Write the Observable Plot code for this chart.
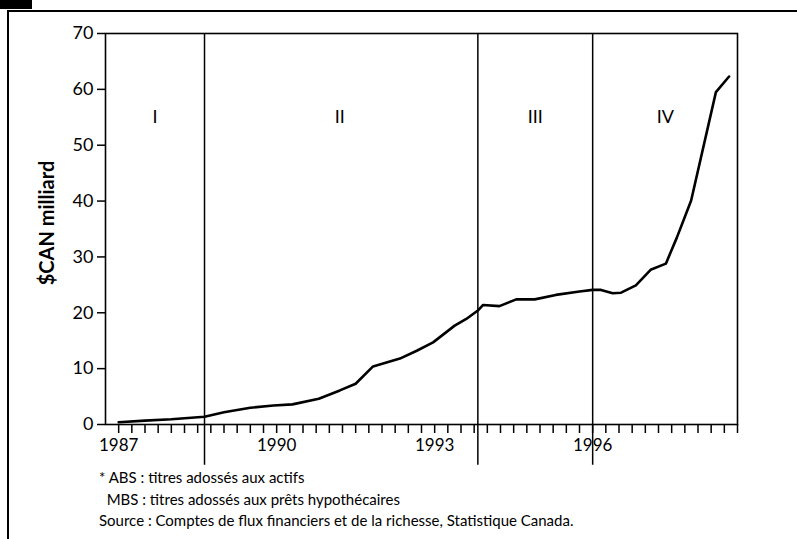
<!DOCTYPE html>
<html>
<head>
<meta charset="utf-8">
<script src="https://cdn.jsdelivr.net/npm/d3@7"></script>
<script src="https://cdn.jsdelivr.net/npm/@observablehq/plot@0.6"></script>
<style>
  html, body { margin: 0; padding: 0; background: #fff; }
  #page { position: relative; width: 797px; height: 539px; overflow: hidden; background: #fff; font-family: Lato, "Open Sans", sans-serif; }
  #chart { position: absolute; left: 0; top: 0; }
  .blk { position: absolute; left: 0; top: 0; width: 32px; height: 9px; background: #000; }
  .topline { position: absolute; left: 7px; top: 10px; right: 0; height: 2px; background: #000; }
  .leftline { position: absolute; left: 7px; top: 10px; bottom: 0; width: 2px; background: #000; }
  #caption { position: absolute; left: 99px; top: 467px; font-size: 15px; line-height: 21.5px; color: #000; }
</style>
</head>
<body>
<div id="page">
  <div class="blk"></div>
  <div class="topline"></div>
  <div class="leftline"></div>
  <div id="chart"></div>
  <div id="caption">
    <div>* ABS : titres adossés aux actifs</div>
    <div>&nbsp;&nbsp;MBS : titres adossés aux prêts hypothécaires</div>
    <div>Source : Comptes de flux financiers et de la richesse, Statistique Canada.</div>
  </div>
</div>
<script>
// Series (time in decimal years, values in billions of CAD)
const years = [1987.0, 1987.5, 1988.0, 1988.63, 1989.0, 1989.5, 1989.94, 1990.3, 1990.8, 1991.2,
  1991.5, 1991.83, 1992.34, 1992.66, 1992.97, 1993.38, 1993.6, 1993.82, 1993.92, 1994.23,
  1994.55, 1994.9, 1995.3, 1995.75, 1996.0, 1996.16, 1996.38, 1996.54, 1996.82, 1997.1,
  1997.39, 1997.6, 1997.87, 1998.34, 1998.59];
const values = [0.4, 0.7, 0.95, 1.4, 2.2, 3.0, 3.4, 3.6, 4.6, 6.1,
  7.3, 10.4, 11.8, 13.2, 14.7, 17.7, 18.9, 20.4, 21.4, 21.2,
  22.4, 22.4, 23.2, 23.8, 24.1, 24.1, 23.5, 23.6, 24.9, 27.7,
  28.8, 33.5, 40.1, 59.5, 62.3];

// Period boundaries and labels
const periodBreaks = [1988.63, 1993.82, 1996.0];
const periodNames = ["I", "II", "III", "IV"];
const periodCenters = [1987.69, 1991.2, 1994.91, 1997.38];
const periodLabelY = 55;

// Axes
const xDomain = [1986.75, 1998.75];
const yDomain = [0, 70];
const xTicks = d3.range(0, 48).map(i => 1987 + i * 0.25);
const xLabelYears = [1987, 1990, 1993, 1996];
const yTicks = [0, 10, 20, 30, 40, 50, 60, 70];
const yTitle = "$CAN milliard";
const ruleBottom = -7.3;

const series = years.map((t, i) => ({t, v: values[i]}));
const periods = periodNames.map((n, i) => ({n, t: periodCenters[i]}));

const chart = Plot.plot({
  width: 797,
  height: 480,
  marginLeft: 105,
  marginRight: 60,
  marginTop: 33,
  marginBottom: 56,
  style: {fontFamily: "Lato, 'Open Sans', sans-serif", color: "#000", background: "transparent", overflow: "visible"},
  x: {domain: xDomain},
  y: {domain: yDomain},
  marks: [
    Plot.frame({stroke: "#000", strokeWidth: 1.6}),
    Plot.ruleX(periodBreaks, {x: d => d, y1: yDomain[1], y2: ruleBottom, stroke: "#000", strokeWidth: 1.5}),
    Plot.axisY({ticks: yTicks, tickSize: 8, tickPadding: 4, fontSize: 18, strokeWidth: 1.5, label: null}),
    Plot.axisX({ticks: xTicks, tickSize: 9, tickPadding: 5, fontSize: 17, strokeWidth: 1.5, label: null,
      tickFormat: d => xLabelYears.includes(d) ? String(d) : ""}),
    Plot.text([yTitle], {text: d => d, frameAnchor: "left", textAnchor: "middle", rotate: -90, dx: -58, dy: -6, fontSize: 20, fontWeight: "bold", fill: "#000"}),
    Plot.text(periods, {x: "t", y: () => periodLabelY, text: "n", fontSize: 18, fill: "#000"}),
    Plot.line(series, {x: "t", y: "v", stroke: "#000", strokeWidth: 2.6, strokeLinejoin: "round"})
  ]
});
document.getElementById("chart").appendChild(chart);
</script>
</body>
</html>
